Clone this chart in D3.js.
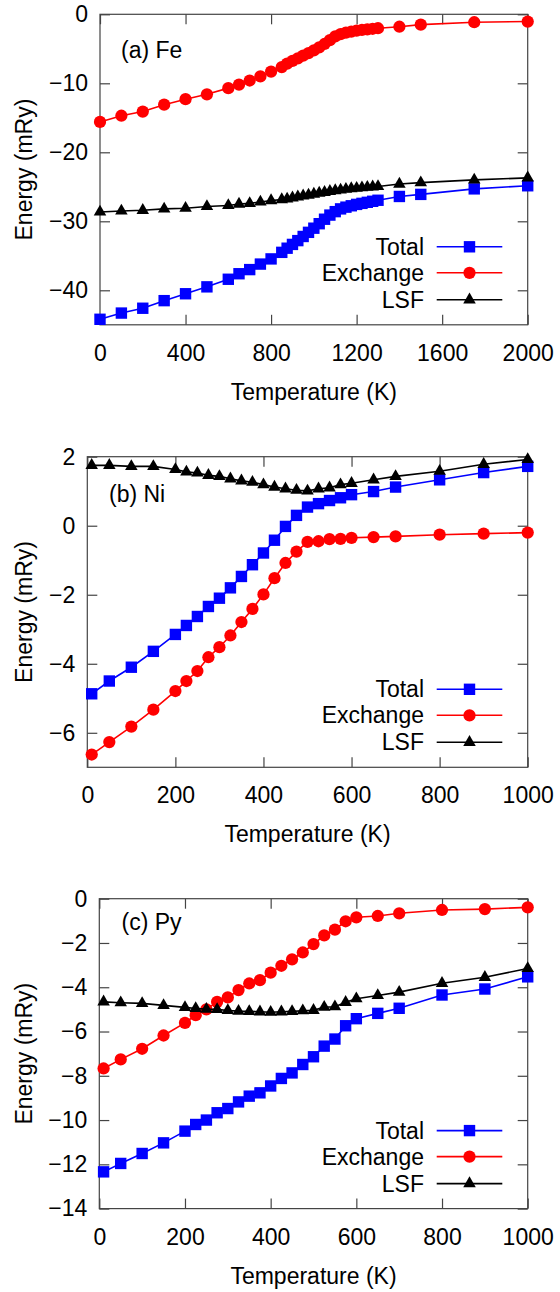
<!DOCTYPE html>
<html><head><meta charset="utf-8">
<script src="https://cdn.jsdelivr.net/npm/d3@7"></script>
<style>body{margin:0;background:#fff}svg{display:block}text{font-family:"Liberation Sans",Arial,sans-serif;fill:#000}</style>
</head><body><svg id="c" width="560" height="1292"></svg>
<script>
// ---------- Data ----------
const seriesNames = ["Total", "Exchange", "LSF"];

// (a) Fe
const feT = [0,100,200,300,400,500,600,650,700,750,800,850,875,900,925,950,975,1000,1025,1050,1075,1100,1125,1150,1175,1200,1225,1250,1275,1300,1400,1500,1750,2000];
const feTotal = [-44.2,-43.3,-42.6,-41.5,-40.5,-39.5,-38.4,-37.6,-37.0,-36.2,-35.45,-34.5,-33.9,-33.35,-32.8,-32.2,-31.6,-31.0,-30.35,-29.7,-29.1,-28.6,-28.2,-27.95,-27.75,-27.55,-27.4,-27.25,-27.1,-26.95,-26.4,-26.1,-25.3,-24.85];
const feExchange = [-15.6,-14.7,-14.1,-13.1,-12.3,-11.6,-10.7,-10.2,-9.6,-9.0,-8.3,-7.65,-7.15,-6.75,-6.38,-6.0,-5.62,-5.22,-4.8,-4.3,-3.75,-3.2,-2.88,-2.66,-2.5,-2.37,-2.27,-2.18,-2.1,-2.02,-1.8,-1.5,-1.15,-1.05];
const feLSF = [-28.65,-28.5,-28.4,-28.2,-28.1,-27.85,-27.7,-27.5,-27.4,-27.2,-27.0,-26.85,-26.75,-26.6,-26.45,-26.3,-26.2,-26.05,-25.9,-25.8,-25.65,-25.55,-25.45,-25.35,-25.25,-25.2,-25.12,-25.06,-25.0,-24.95,-24.6,-24.4,-24.0,-23.7];
const feXTicks = [0,400,800,1200,1600,2000];
const feYTicks = [0,-10,-20,-30,-40];

// (b) Ni
const niT = [10,50,100,150,200,225,250,275,300,325,350,375,400,425,450,475,500,525,550,575,600,650,700,800,900,1000];
const niTotal = [-4.87,-4.50,-4.10,-3.64,-3.15,-2.89,-2.63,-2.34,-2.10,-1.80,-1.47,-1.13,-0.79,-0.42,-0.02,0.30,0.54,0.64,0.73,0.81,0.90,0.99,1.12,1.33,1.54,1.72];
const niExchange = [-6.63,-6.27,-5.82,-5.33,-4.79,-4.50,-4.21,-3.81,-3.52,-3.18,-2.79,-2.41,-1.99,-1.52,-1.08,-0.75,-0.47,-0.45,-0.39,-0.38,-0.35,-0.33,-0.31,-0.26,-0.23,-0.20];
const niLSF = [1.75,1.75,1.72,1.72,1.63,1.56,1.53,1.46,1.43,1.36,1.30,1.26,1.19,1.12,1.07,1.03,1.01,1.07,1.10,1.19,1.23,1.33,1.43,1.58,1.78,1.92];
const niXTicks = [0,200,400,600,800,1000];
const niYTicks = [2,0,-2,-4,-6];

// (c) Py
const pyT = [10,50,100,150,200,225,250,275,300,325,350,375,400,425,450,475,500,525,550,575,600,650,700,800,900,1000];
const pyTotal = [-12.34,-11.96,-11.51,-11.03,-10.5,-10.2,-10.0,-9.67,-9.48,-9.18,-8.92,-8.77,-8.46,-8.12,-7.87,-7.49,-7.14,-6.66,-6.34,-5.74,-5.42,-5.18,-4.95,-4.35,-4.08,-3.53];
const pyExchange = [-7.67,-7.26,-6.78,-6.18,-5.61,-5.26,-5.0,-4.66,-4.46,-4.13,-3.83,-3.68,-3.34,-3.03,-2.74,-2.43,-2.05,-1.66,-1.40,-1.02,-0.84,-0.78,-0.66,-0.51,-0.47,-0.39];
const pyLSF = [-4.66,-4.70,-4.73,-4.82,-4.91,-4.96,-4.99,-5.0,-5.05,-5.08,-5.09,-5.11,-5.13,-5.11,-5.09,-5.06,-5.04,-4.9,-4.88,-4.68,-4.52,-4.37,-4.22,-3.82,-3.55,-3.15];
const pyXTicks = [0,200,400,600,800,1000];
const pyYTicks = [0,-2,-4,-6,-8,-10,-12,-14];

// ---------- Drawing ----------
const svg = d3.select("#c");
const colors = ["#0000ff", "#ff0000", "#000000"];
const symbols = [d3.symbolSquare, d3.symbolCircle, d3.symbolTriangle];
const symSizes = [130, 118, 68];
const FS = 23;
const FF = "Liberation Sans";

const panels = [
  {label:"(a) Fe", T:feT, ys:[feTotal,feExchange,feLSF], xd:[0,2000], yd:[-45,0], xt:feXTicks, yt:feYTicks,
   box:{l:100,r:527.7,t:14.3,b:324.8}, lab:{x:121,y:58}},
  {label:"(b) Ni", T:niT, ys:[niTotal,niExchange,niLSF], xd:[0,1000], yd:[-7,2], xt:niXTicks, yt:niYTicks,
   box:{l:87.3,r:527.7,t:456.7,b:767.3}, lab:{x:109,y:502}},
  {label:"(c) Py", T:pyT, ys:[pyTotal,pyExchange,pyLSF], xd:[0,1000], yd:[-14,0], xt:pyXTicks, yt:pyYTicks,
   box:{l:99.3,r:527.7,t:898.7,b:1208.6}, lab:{x:121.5,y:930}}
];

panels.forEach(p => {
  const B = p.box;
  const x = d3.scaleLinear().domain(p.xd).range([B.l, B.r]);
  const y = d3.scaleLinear().domain(p.yd).range([B.b, B.t]);
  const g = svg.append("g");
  const tl = 10;
  const axStyle = s => s.attr("stroke", "#444").attr("stroke-width", 1.2);

  const xAxis = g.append("g").attr("transform", `translate(0,${B.b})`)
    .call(d3.axisBottom(x).tickValues(p.xt).tickSize(-tl).tickSizeOuter(0).tickPadding(0).tickFormat(d3.format("d")));
  xAxis.select(".domain").remove();
  xAxis.selectAll(".tick line").call(axStyle);
  xAxis.selectAll(".tick text").attr("y", 36).attr("dy", 0).attr("font-size", FS).attr("font-family", FF).attr("fill", "#000");

  const xTop = g.append("g").attr("transform", `translate(0,${B.t})`)
    .call(d3.axisTop(x).tickValues(p.xt).tickSize(-tl).tickSizeOuter(0).tickFormat(""));
  xTop.select(".domain").remove();
  xTop.selectAll(".tick line").call(axStyle);

  const yAxis = g.append("g").attr("transform", `translate(${B.l},0)`)
    .call(d3.axisLeft(y).tickValues(p.yt).tickSize(-tl).tickSizeOuter(0).tickPadding(13).tickFormat(d3.format("d")));
  yAxis.select(".domain").remove();
  yAxis.selectAll(".tick line").call(axStyle);
  yAxis.selectAll(".tick text").attr("x", -12).attr("font-size", FS).attr("font-family", FF).attr("fill", "#000");

  const yRight = g.append("g").attr("transform", `translate(${B.r},0)`)
    .call(d3.axisRight(y).tickValues(p.yt).tickSize(-tl).tickSizeOuter(0).tickFormat(""));
  yRight.select(".domain").remove();
  yRight.selectAll(".tick line").call(axStyle);

  g.append("rect").attr("x", B.l).attr("y", B.t).attr("width", B.r - B.l).attr("height", B.b - B.t)
    .attr("fill", "none").attr("stroke", "#444").attr("stroke-width", 1.2);

  g.append("text").attr("x", (B.l + B.r) / 2).attr("y", B.b + 75).attr("text-anchor", "middle")
    .attr("font-size", FS).text("Temperature (K)");
  g.append("text").attr("transform", `translate(32,${(B.t + B.b) / 2}) rotate(-90)`).attr("text-anchor", "middle")
    .attr("font-size", FS).text("Energy (mRy)");
  g.append("text").attr("x", p.lab.x).attr("y", p.lab.y).attr("font-size", FS).text(p.label);

  p.ys.forEach((vals, i) => {
    const pts = p.T.map((t, k) => [t, vals[k]]);
    g.append("path").datum(pts)
      .attr("d", d3.line().x(d => x(d[0])).y(d => y(d[1])))
      .attr("fill", "none").attr("stroke", colors[i]).attr("stroke-width", 1.6);
    g.selectAll(null).data(pts).enter().append("path")
      .attr("transform", d => `translate(${x(d[0])},${y(d[1])})`)
      .attr("d", d3.symbol().type(symbols[i]).size(symSizes[i]))
      .attr("fill", colors[i]);
  });

  const rows = [B.b - 78, B.b - 52, B.b - 25];
  seriesNames.forEach((name, i) => {
    const ry = rows[i];
    g.append("text").attr("x", 424).attr("y", ry).attr("dy", "0.35em").attr("text-anchor", "end")
      .attr("font-size", FS).text(name);
    g.append("line").attr("x1", 436.7).attr("x2", 502.3).attr("y1", ry).attr("y2", ry)
      .attr("stroke", colors[i]).attr("stroke-width", 1.6);
    g.append("path").attr("transform", `translate(469.5,${ry})`)
      .attr("d", d3.symbol().type(symbols[i]).size(symSizes[i])).attr("fill", colors[i]);
  });
});
</script></body></html>
